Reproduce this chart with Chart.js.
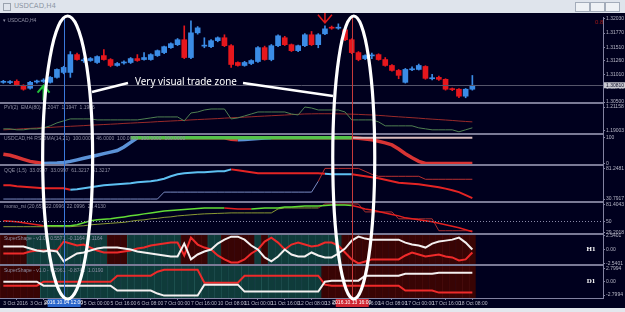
<!DOCTYPE html>
<html>
<head>
<meta charset="utf-8">
<script src="https://cdn.jsdelivr.net/npm/chart.js@4.4.1/dist/chart.umd.min.js"></script>
<style>
  html, body { margin: 0; padding: 0; background: #e3e7ed; }
  #win { position: relative; width: 625px; height: 312px; overflow: hidden; background: #e3e7ed; }
  #title { position: absolute; left: 0; top: 0; width: 625px; height: 13px; background: #dfe4ec; }
  #title .icon { position: absolute; left: 3px; top: 3px; width: 6px; height: 6px; border: 1px solid #9aa2ae; }
  #title .txt { position: absolute; left: 14px; top: 2px; font: 7px 'DejaVu Sans', sans-serif; color: #8e97a4; }
  #title .btn { position: absolute; top: 2px; width: 13px; height: 8px; border: 1px solid #a3acba; background: #eef1f5; }
  #box { position: absolute; left: 0; top: 13px; width: 625px; height: 295px; background: #00001e; }
</style>
</head>
<body>
<div id="win">
  <div id="title">
    <div class="icon"></div><div class="txt">USDCAD,H4</div>
    <div class="btn" style="left:575px"></div>
    <div class="btn" style="left:590px"></div>
    <div class="btn" style="left:605px"></div>
  </div>
  <div id="box"><canvas id="chart" width="625" height="295"></canvas></div>
</div>
<script>
const _ = null;

// time axis: USDCAD H4 bars, 3 Oct 2016 .. 18 Oct 2016
const days = ['3 Oct', '4 Oct', '5 Oct', '6 Oct', '7 Oct', '10 Oct', '11 Oct', '12 Oct', '13 Oct', '14 Oct', '17 Oct', '18 Oct'];
const hours = ['00:00', '04:00', '08:00', '12:00', '16:00', '20:00'];
const barCount = 71;
const emptySlots = 19;

// candles
const open = [1.30864,1.30860,1.30883,1.30810,1.30755,1.30870,1.30880,1.30864,1.30955,1.31046,
  1.31046,1.31374,1.31260,1.31265,1.31229,1.31356,1.31283,1.31174,1.31220,1.31229,
  1.31301,1.31283,1.31283,1.31356,1.31411,1.31502,1.31557,1.31648,1.31320,1.31775,
  1.31530,1.31520,1.31630,1.31684,1.31538,1.31229,1.31174,1.31210,1.31247,1.31502,
  1.31283,1.31538,1.31684,1.31557,1.31447,1.31538,1.31739,1.31557,1.31757,1.31870,
  1.31860,1.31830,1.31648,1.31411,1.31301,1.31350,1.31374,1.31283,1.31174,1.31083,
  1.30864,1.31095,1.31101,1.31156,1.30930,1.30955,1.30919,1.30740,1.30737,1.30609,
  1.30737];
const high = [1.30901,1.30895,1.30910,1.30820,1.30880,1.30905,1.30930,1.30970,1.31110,1.31160,
  1.31430,1.31400,1.31310,1.31320,1.31350,1.31466,1.31300,1.31230,1.31260,1.31320,
  1.31374,1.31411,1.31390,1.31460,1.31530,1.31590,1.31670,1.31903,1.31994,1.31890,
  1.31684,1.31650,1.31700,1.31739,1.31560,1.31240,1.31250,1.31280,1.31520,1.31530,
  1.31560,1.31740,1.31710,1.31570,1.31550,1.31760,1.31800,1.31760,1.31903,1.31900,
  1.31940,1.31850,1.31666,1.31430,1.31370,1.31400,1.31390,1.31320,1.31190,1.31100,
  1.31120,1.31150,1.31200,1.31170,1.31010,1.30980,1.30930,1.30760,1.30750,1.30750,
  1.30990];
const low = [1.30846,1.30840,1.30800,1.30719,1.30740,1.30850,1.30860,1.30850,1.30940,1.31020,
  1.30955,1.31270,1.31230,1.31250,1.31210,1.31270,1.31150,1.31160,1.31200,1.31210,
  1.31250,1.31270,1.31270,1.31340,1.31390,1.31490,1.31540,1.31300,1.31300,1.31750,
  1.31500,1.31500,1.31610,1.31520,1.31138,1.31160,1.31160,1.31190,1.31230,1.31270,
  1.31260,1.31520,1.31540,1.31430,1.31430,1.31520,1.31540,1.31500,1.31740,1.31840,
  1.31840,1.31630,1.31390,1.31260,1.31280,1.31300,1.31270,1.31160,1.31070,1.30930,
  1.30850,1.31080,1.31090,1.30920,1.30910,1.30900,1.30720,1.30710,1.30580,1.30580,
  1.30720];
const close = [1.30870,1.30868,1.30810,1.30737,1.30864,1.30883,1.30905,1.30955,1.31101,1.31138,
  1.31374,1.31283,1.31270,1.31301,1.31338,1.31283,1.31174,1.31210,1.31232,1.31301,
  1.31265,1.31320,1.31374,1.31447,1.31520,1.31575,1.31648,1.31320,1.31775,1.31866,
  1.31545,1.31630,1.31684,1.31538,1.31192,1.31174,1.31229,1.31265,1.31502,1.31283,
  1.31538,1.31720,1.31557,1.31447,1.31538,1.31739,1.31557,1.31739,1.31848,1.31860,
  1.31875,1.31648,1.31411,1.31283,1.31356,1.31360,1.31283,1.31174,1.31083,1.30992,
  1.31101,1.31105,1.31174,1.30937,1.30940,1.30919,1.30737,1.30730,1.30609,1.30737,
  1.30810];

// PVI(2) and its EMA(80)
const pvi = [1.1918,1.1918,1.1909,1.1909,1.1918,1.1918,1.1927,1.1945,1.1972,1.1990,
  1.2008,1.2008,1.2008,1.2008,1.1999,1.1999,1.1999,1.1999,1.1999,1.1999,
  1.1999,1.2008,1.2017,1.2026,1.2026,1.2026,1.2026,1.1990,1.2062,1.2071,
  1.2089,1.2098,1.2098,1.2098,1.2008,1.2017,1.2035,1.2053,1.2071,1.2071,
  1.2071,1.2071,1.2071,1.2053,1.2044,1.2116,1.2107,1.2089,1.2089,1.2089,
  1.2089,1.2071,1.1999,1.1999,1.1999,1.1999,1.1981,1.1945,1.1945,1.1945,
  1.1945,1.1945,1.1927,1.1918,1.1909,1.1909,1.1909,1.1909,1.1891,1.1909,
  1.1927];
const pviEma = [1.1909,1.1912,1.1915,1.1919,1.1922,1.1925,1.1928,1.1931,1.1935,1.1938,
  1.1941,1.1944,1.1947,1.1951,1.1954,1.1957,1.1960,1.1963,1.1967,1.1970,
  1.1973,1.1976,1.1979,1.1983,1.1986,1.1989,1.1992,1.1995,1.1999,1.2002,
  1.2005,1.2008,1.2011,1.2015,1.2018,1.2021,1.2024,1.2027,1.2031,1.2034,
  1.2037,1.2040,1.2043,1.2047,1.2050,1.2053,1.2054,1.2055,1.2055,1.2055,
  1.2054,1.2053,1.2051,1.2049,1.2046,1.2044,1.2040,1.2036,1.2031,1.2027,
  1.2023,1.2019,1.2015,1.2010,1.2006,1.2002,1.1998,1.1994,1.1989,1.1985,
  1.1981];

// RSIOMA pane
const rsioma = [36,32,24,16,8,4,0,1,2,4,
  8,14,20,26,32,38,44,50,64,82,
  100,100,100,100,100,100,100,100,100,100,
  100,100,100,100,94,92,93,95,97,99,
  100,100,100,100,100,100,100,100,100,100,
  100,100,100,98,95,92,86,80,72,56,
  38,22,8,0,0,0,0,0,0,0,
  0];
const rsiomaTop = [_,_,_,_,_,_,_,_,_,_,
  _,_,_,_,_,_,_,_,_,100,
  100,100,100,100,100,100,100,100,100,100,
  100,100,100,100,100,100,100,100,100,100,
  100,100,100,100,100,100,100,100,100,100,
  100,100,100,_,_,_,_,_,_,_,
  _,_,_,_,_,_,_,_,_,_,
  _];
const rsiomaLevel = [_,_,_,_,_,_,_,_,_,_,
  _,_,_,_,_,_,_,_,_,_,
  _,_,_,_,_,_,_,_,_,_,
  _,_,_,_,_,_,_,_,_,_,
  _,_,_,_,_,_,_,_,_,_,
  _,_,100,100,100,100,100,100,100,100,
  100,100,100,100,100,100,100,100,100,100,
  100];
const rsiomaUp = [[6, 19], [35, 39]];

// QQE(1,5)
const qqe = [53.6,53.6,51.9,51.1,50.3,49.5,48.7,48.7,48.7,48.7,
  46.2,47.0,48.7,50.3,51.9,53.6,54.4,55.2,56.0,56.8,
  58.5,59.3,60.1,61.7,64.1,68.2,71.5,73.1,73.9,74.7,
  74.7,75.5,76.4,76.4,79.6,78.0,76.4,74.7,73.1,73.1,
  73.1,73.1,73.1,73.1,73.1,73.1,73.1,73.1,72.3,71.5,
  71.5,71.5,71.5,69.9,68.2,66.6,65.0,62.5,60.1,57.7,
  56.8,56.0,55.2,53.6,51.9,50.3,47.9,45.4,42.2,37.3,
  32.4];
const qqeTrail = [30.8,30.8,30.8,30.8,30.8,30.8,30.8,30.8,30.8,30.8,
  30.8,30.8,30.8,30.8,30.8,30.8,30.8,30.8,30.8,30.8,
  30.8,30.8,30.8,30.8,42.2,42.2,42.2,42.2,42.2,42.2,
  42.2,42.2,42.2,42.2,42.2,42.2,42.2,42.2,42.2,42.2,
  42.2,42.2,42.2,42.2,42.2,42.2,42.2,60.0,81.2,81.2,
  81.2,81.2,81.2,81.2,76.4,71.5,68.2,68.2,68.2,68.2,
  68.2,68.2,68.2,63.3,63.3,63.3,63.3,63.3,63.3,63.3,
  63.3];
const qqeBlue = [[10, 33], [48, 51]];
const qqeTrailRed = [[47, 70]];

// momo_rsi(20,65)
const momo = [50.9,50.0,49.0,47.2,45.4,43.5,41.7,41.7,41.7,41.7,
  41.7,43.5,47.2,50.9,52.7,53.6,54.6,56.4,58.2,60.1,
  61.9,63.8,65.6,67.4,69.3,70.2,71.1,72.0,73.0,73.9,
  74.8,74.8,74.8,74.8,73.9,73.0,73.0,73.0,73.9,74.8,
  74.8,74.8,76.6,76.6,77.6,78.5,78.5,78.5,79.4,80.3,
  80.3,80.3,79.4,76.6,73.0,71.1,68.4,65.6,62.8,60.1,
  56.4,54.6,52.7,50.9,49.1,46.3,43.5,40.8,38.0,34.3,
  30.6];
const momoSignal = [40.0,40.0,40.0,40.0,40.0,40.0,40.0,40.0,40.0,40.0,
  40.0,41.0,41.7,43.5,44.4,45.4,46.3,47.2,48.1,50.0,
  51.8,52.7,54.6,55.5,57.3,58.2,60.0,61.0,62.0,63.0,
  63.8,64.2,64.7,65.1,65.6,65.6,65.6,65.6,65.6,65.6,
  65.6,73.0,74.8,74.8,74.8,74.8,74.8,74.8,82.2,82.2,
  82.2,82.2,82.2,82.2,67.4,67.4,67.4,67.4,67.4,54.6,
  54.6,54.6,54.6,54.6,54.6,32.5,32.5,32.5,32.5,32.5,
  32.5];
const momoGreen = [[6, 32], [37, 51]];
const momoSignalRed = [[47, 70]];
const momoLevel = 50;

// SuperShape H1
const h1Red = [-0.73,-0.73,-0.73,-0.73,-0.36,-0.18,-0.18,-0.18,-0.18,1.45,
  1.09,0.73,0.91,0.36,-0.18,-0.54,-0.54,-0.54,-0.36,-0.18,
  0.18,0.36,0.73,0.91,1.09,1.27,1.27,-1.09,2.18,0.91,
  0.36,0,-1.09,-1.81,-2.36,-2.36,-1.81,-0.73,0,1.45,
  2.18,1.27,0,0.91,1.27,0.91,0.54,0.73,1.27,1.27,
  0.73,-0.54,-1.81,-2.54,-2.18,-1.81,-1.81,-1.81,-1.81,-1.81,
  -1.09,-0.54,-0.91,-1.27,-1.09,-0.91,-1.27,-1.45,-2.0,-1.81,
  -0.54];
const h1White = [0.54,0.54,0.54,0.54,0.18,-0.18,-0.36,-0.18,-0.36,-2.18,
  -1.45,-0.73,-0.54,-0.18,0.18,0.36,0.36,0.36,0.18,0,
  -0.36,-0.54,-0.73,-0.91,-1.09,-1.27,-1.27,1.09,-1.81,-0.91,
  -0.36,0,1.09,1.81,2.36,2.36,1.81,0.73,0,-1.45,
  -2.18,-1.27,0,-0.91,-1.27,-1.27,-0.54,-1.09,-1.45,-1.45,
  -0.73,0.18,1.63,2.36,2.0,1.81,1.81,1.81,1.81,1.81,
  1.27,0.91,0.73,0.36,1.09,1.45,1.63,1.81,2.18,1.27,
  0];
const h1RedZones = [[0, 3], [16, 18], [27, 30], [33, 37], [39, 39], [51, 70]];

// SuperShape D1
const d1Red = [-0.83,-0.83,-0.83,-0.83,-0.83,-0.83,0,0,0,0,
  0,0,0,0,0,0,0,1.24,1.24,1.24,
  1.24,1.24,1.24,2.07,2.48,2.48,2.48,2.48,2.48,2.48,
  -0.21,-0.21,-0.21,-0.21,-0.21,-0.21,1.24,1.24,1.24,1.24,
  1.24,1.24,1.24,1.24,1.24,1.24,1.24,1.24,-0.62,-0.83,
  -0.83,-0.83,-0.83,-0.83,-0.83,-0.83,-0.83,-0.83,-0.83,-0.83,
  -1.86,-1.86,-1.86,-1.86,-1.86,-2.28,-2.28,-2.28,-2.28,-2.28,
  -2.28];
const d1White = [0,0,0,0,0,0,-0.83,-0.83,-0.83,-0.83,
  -0.83,-0.83,-0.83,-0.83,-0.83,-0.83,-0.83,-1.86,-1.86,-1.86,
  -1.86,-1.86,-1.86,-2.48,-2.9,-2.9,-2.9,-2.9,-2.9,-2.9,
  -0.62,-0.62,-0.62,-0.62,-0.62,-0.62,-2.07,-2.07,-2.07,-2.07,
  -2.07,-2.07,-2.07,-2.07,-2.07,-2.07,-2.07,-2.07,0,0.21,
  0.21,0.21,0.21,0.21,1.24,1.24,1.24,1.24,1.24,1.24,
  1.66,1.66,1.66,1.66,1.66,1.86,1.86,1.86,1.86,1.86,
  1.86];
const d1RedZones = [[0, 5], [48, 70]];

// right axis tick labels
const mainTicks = [1.32030, 1.31770, 1.31510, 1.31260, 1.31010, 1.30760, 1.30500];
const pviTicks = [1.21158, 1.19003];
const rsiomaTicks = [100, 0];
const qqeTicks = [81.2481, 30.7917];
const momoTicks = [81.4043, 50, 29.2018];
const h1Ticks = [2.5401, 0, -2.5401];
const d1Ticks = [2.7994, 0, -2.7994];

// vertical markers and pane captions
const markers = [
  { bar: 9, text: '2016.10.04 12:00', color: '#3a78dc', box: '#2a66cc' },
  { bar: 52, text: '2016.10.13 16:00', color: '#c83a3a', box: '#d02632' }
];
const captions = {
  yPvi: 'PVI(2)  EMA(80)  1.2047  1.1947  1.1906',
  yRsi: 'USDCAD,H4 RSIOMA(14,21)  100.0000  46.0000  100.0000  100.0000  100.0000',
  yQqe: 'QQE (1,5)  33.0997  33.0997  61.3217  61.3217',
  yMomo: 'momo_rsi (20,65)  22.0996  22.0996  29.4130',
  yH1: 'SuperShape - v1.0 - 0.5571  -0.1164  0.1164',
  yD1: 'SuperShape - v1.0 - 0.2961  -0.8741  1.0190'
};

const blue = '#3b8ce6', red = '#e6171d';
const axisGray = '#8282a0', tickGray = '#b6b6c6';
const tinyFont = { size: 5, family: 'Liberation Sans' };

const barTimes = days.flatMap(d => hours.map(h => d + ' ' + h)).slice(0, barCount);
const labels = barTimes.concat(new Array(emptySlots).fill(''));
const inRanges = (i, ranges) => ranges.some(([a, b]) => i >= a && i <= b);
const candleColors = close.map((c, i) => c >= open[i] ? blue : red);

const pane = (weight, min, max, ticks, fmt) => ({
  position: 'right', stack: 'panes', stackWeight: weight, min, max,
  afterBuildTicks: s => { s.ticks = ticks.map(v => ({ value: v })); },
  afterFit: s => { s.width = 22; },
  grid: { drawOnChartArea: false, tickLength: 2, color: axisGray },
  border: { color: axisGray },
  ticks: { autoSkip: false, color: tickGray, padding: 1, font: tinyFont, callback: fmt }
});
// lower order is drawn on top
const lineSet = (data, axis, color, width, order, extra) => Object.assign({
  type: 'line', data, yAxisID: axis, borderColor: color, borderWidth: width,
  pointRadius: 0, tension: 0, spanGaps: false, order
}, extra || {});
const zoneSet = (axis, min, max, zones) => ({
  type: 'bar', yAxisID: axis, data: barTimes.map(() => [min, max]),
  backgroundColor: barTimes.map((t, i) => inRanges(i, zones) ? '#380404' : '#0f3b3a'),
  borderColor: barTimes.map((t, i) => inRanges(i, zones) ? '#480c0c' : '#1f5251'),
  borderWidth: { left: 1, right: 0, top: 0, bottom: 0 }, borderSkipped: false,
  barPercentage: 1, categoryPercentage: 1, grouped: false, order: 20
});

const overlay = {
  id: 'overlay',
  afterDatasetsDraw(chart) {
    const { ctx, chartArea: a, scales: s } = chart;
    ctx.save();
    // bid line
    const yb = Math.round(s.yMain.getPixelForValue(close[barCount - 1])) + 0.5;
    ctx.strokeStyle = '#55556a'; ctx.lineWidth = 1;
    ctx.beginPath(); ctx.moveTo(a.left, yb); ctx.lineTo(a.right, yb); ctx.stroke();
    // momo 50 level
    const yl = Math.round(s.yMomo.getPixelForValue(momoLevel)) + 0.5;
    ctx.setLineDash([1, 2]); ctx.strokeStyle = '#8a8aa8';
    ctx.beginPath(); ctx.moveTo(a.left, yl); ctx.lineTo(a.right, yl); ctx.stroke();
    ctx.setLineDash([]);
    // pane separators
    ctx.strokeStyle = '#7a7a96'; ctx.lineWidth = 2;
    ['yPvi', 'yRsi', 'yQqe', 'yMomo', 'yH1', 'yD1'].forEach(id => {
      const y = Math.round(s[id].top);
      ctx.beginPath(); ctx.moveTo(a.left, y); ctx.lineTo(a.right, y); ctx.stroke();
    });
    // vertical markers
    ctx.lineWidth = 1;
    markers.forEach(m => {
      const x = Math.round(s.x.getPixelForValue(m.bar)) + 0.5;
      ctx.strokeStyle = m.color;
      ctx.beginPath(); ctx.moveTo(x, a.top); ctx.lineTo(x, a.bottom); ctx.stroke();
    });
    ctx.restore();
  },
  afterDraw(chart) {
    const { ctx, chartArea: a, scales: s } = chart;
    ctx.save();
    // captions
    ctx.font = '5px Liberation Sans'; ctx.fillStyle = '#8e8ea4'; ctx.textBaseline = 'middle';
    ctx.fillText('\u25BE USDCAD,H4', a.left + 3, a.top + 4);
    Object.keys(captions).forEach(id => ctx.fillText(captions[id], a.left + 4, s[id].top + 5));
    ctx.fillStyle = '#a01818'; ctx.font = '6px Liberation Sans';
    ctx.fillText('0.8', a.right - 8, a.top + 5);
    // H1 / D1 tags
    ctx.fillStyle = '#ffffff'; ctx.font = 'bold 7px Liberation Serif'; ctx.textAlign = 'center';
    ctx.fillText('H1', a.right - 12, (s.yH1.top + s.yH1.bottom) / 2);
    ctx.fillText('D1', a.right - 12, (s.yD1.top + s.yD1.bottom) / 2);
    // current price box
    const yb = s.yMain.getPixelForValue(close[barCount - 1]);
    ctx.fillStyle = '#c8c8d0'; ctx.fillRect(a.right + 1, yb - 3, 21, 6);
    ctx.fillStyle = '#10102a'; ctx.font = '5px Liberation Sans'; ctx.textAlign = 'left';
    ctx.fillText(close[barCount - 1].toFixed(5), a.right + 3, yb);
    // time markers on the axis
    markers.forEach(m => {
      const x = s.x.getPixelForValue(m.bar);
      ctx.fillStyle = m.box; ctx.fillRect(x - 16, a.bottom + 1, 33, 8);
      ctx.fillStyle = '#ffffff'; ctx.textAlign = 'center';
      ctx.fillText(m.text, x, a.bottom + 5);
    });
    // buy / sell arrows
    const xb = s.x.getPixelForValue(6), yB = s.yMain.getPixelForValue(low[6]) + 3;
    ctx.strokeStyle = '#22c23a'; ctx.lineWidth = 2;
    ctx.beginPath(); ctx.moveTo(xb, yB + 15); ctx.lineTo(xb, yB);
    ctx.moveTo(xb - 6, yB + 7); ctx.lineTo(xb, yB); ctx.lineTo(xb + 6, yB + 7); ctx.stroke();
    const xs = s.x.getPixelForValue(48), yS = s.yMain.getPixelForValue(high[48]) - 3;
    ctx.strokeStyle = '#e01a1a'; ctx.lineWidth = 1.5;
    ctx.beginPath(); ctx.moveTo(xs, yS - 12); ctx.lineTo(xs, yS);
    ctx.moveTo(xs - 7, yS - 8); ctx.lineTo(xs, yS); ctx.lineTo(xs + 7, yS - 8); ctx.stroke();
    // hand-drawn annotation
    ctx.strokeStyle = '#ffffff'; ctx.lineWidth = 3.2;
    const cy = (a.top + a.bottom) / 2, ry = (a.bottom - a.top) / 2 + 1;
    ctx.beginPath(); ctx.ellipse(s.x.getPixelForValue(9) + 4, cy, 25, ry, 0, 0, Math.PI * 2); ctx.stroke();
    ctx.beginPath(); ctx.ellipse(s.x.getPixelForValue(52) + 2, cy, 21, ry, 0, 0, Math.PI * 2); ctx.stroke();
    ctx.lineWidth = 2.5;
    ctx.beginPath(); ctx.moveTo(92, a.top + 75); ctx.lineTo(128, a.top + 66); ctx.stroke();
    ctx.beginPath(); ctx.moveTo(243, a.top + 66); ctx.lineTo(333, a.top + 79); ctx.stroke();
    ctx.font = '10px Noto Sans'; ctx.fillStyle = '#ffffff'; ctx.textAlign = 'left';
    const w = ctx.measureText('Very visual trade zone').width;
    ctx.font = (10 * 102 / w).toFixed(2) + 'px Noto Sans';
    ctx.fillText('Very visual trade zone', 135, a.top + 65);
    ctx.restore();
  }
};

new Chart(document.getElementById('chart'), {
  type: 'bar',
  data: {
    labels,
    datasets: [
      { data: low.map((l, i) => [l, high[i]]), yAxisID: 'yMain', backgroundColor: candleColors,
        barThickness: 1, grouped: false, order: 11 },
      { data: open.map((o, i) => [o, close[i]]), yAxisID: 'yMain', backgroundColor: candleColors,
        barThickness: 5, minBarLength: 1, grouped: false, order: 10 },
      lineSet(pviEma, 'yPvi', '#9a2a2a', 1, 6),
      lineSet(pvi, 'yPvi', '#4f7f52', 1, 5),
      lineSet(rsioma, 'yRsi', red, 3.5, 7, {
        segment: { borderColor: c => inRanges(c.p0DataIndex, rsiomaUp) ? '#5b92d8' : '#d83434' } }),
      lineSet(rsiomaLevel, 'yRsi', '#d8bcbc', 2, 6),
      lineSet(rsiomaTop, 'yRsi', '#55c24a', 3.5, 5),
      lineSet(qqeTrail, 'yQqe', '#7a8cc4', 1, 6, {
        segment: { borderColor: c => inRanges(c.p0DataIndex, qqeTrailRed) ? '#b83030' : '#7a8cc4' } }),
      lineSet(qqe, 'yQqe', red, 2, 5, {
        segment: { borderColor: c => inRanges(c.p0DataIndex, qqeBlue) ? '#5ec0f2' : '#e42424' } }),
      lineSet(momoSignal, 'yMomo', '#8a9a34', 1, 6, {
        segment: { borderColor: c => inRanges(c.p0DataIndex, momoSignalRed) ? '#a83030' : '#8a9a34' } }),
      lineSet(momo, 'yMomo', red, 1.5, 5, {
        segment: { borderColor: c => inRanges(c.p0DataIndex, momoGreen) ? '#62dc36' : '#e42020' } }),
      zoneSet('yH1', -2.9, 2.9, h1RedZones),
      lineSet(h1Red, 'yH1', '#ee2a2a', 2, 6),
      lineSet(h1White, 'yH1', '#f4f0f0', 2, 5),
      zoneSet('yD1', -3.4, 3.4, d1RedZones),
      lineSet(d1Red, 'yD1', '#ee2a2a', 2, 6),
      lineSet(d1White, 'yD1', '#f4f0f0', 2, 5)
    ]
  },
  options: {
    responsive: false,
    animation: false,
    devicePixelRatio: 1,
    layout: { padding: { top: 1, left: 0, right: 0, bottom: 0 } },
    plugins: { legend: { display: false }, tooltip: { enabled: false } },
    scales: {
      x: {
        type: 'category', offset: true,
        afterFit: s => { s.height = 10; },
        grid: { drawOnChartArea: false, tickLength: 2, color: axisGray },
        border: { color: axisGray },
        ticks: {
          autoSkip: false, maxRotation: 0, align: 'start', padding: 1, color: tickGray, font: tinyFont,
          callback: (v, i) => i < barCount && i % 4 === 0 ? (i === 0 ? '3 Oct 2016' : barTimes[i]) : null
        }
      },
      yMain: pane(87, 1.30482, 1.32066, mainTicks, v => v.toFixed(5)),
      yPvi: pane(31, 1.18733, 1.21517, pviTicks, v => v.toFixed(5)),
      yRsi: pane(32, -7.7, 115.4, rsiomaTicks, v => String(v)),
      yQqe: pane(37, 25.9, 86.1, qqeTicks, v => v.toFixed(4)),
      yMomo: pane(32, 27, 85.8, momoTicks, v => v === momoLevel ? '50' : v.toFixed(4)),
      yH1: pane(32, -2.9, 2.9, h1Ticks, v => v === 0 ? '0.00' : v.toFixed(4)),
      yD1: pane(33, -3.4, 3.4, d1Ticks, v => v === 0 ? '0.00' : v.toFixed(4))
    }
  },
  plugins: [overlay]
});
</script>
</body>
</html>
